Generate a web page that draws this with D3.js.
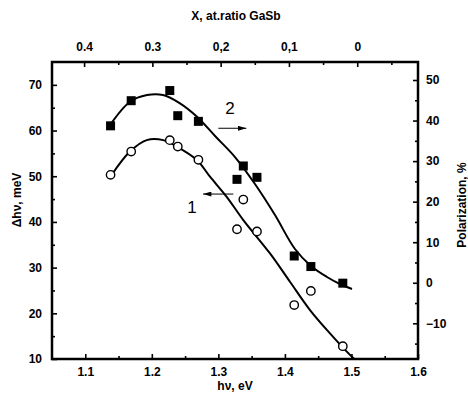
<!DOCTYPE html>
<html>
<head>
<meta charset="utf-8">
<script src="https://cdn.jsdelivr.net/npm/d3@7"></script>
<style>
  body { margin: 0; background: #fff; }
  svg { display: block; }
  text { font-family: "Liberation Sans", Arial, sans-serif; fill: #000; }
</style>
</head>
<body>
<svg id="chart" width="468" height="399"></svg>
<script>
// photon energy (eV) of each measured sample
const energy = [1.138, 1.169, 1.227, 1.239, 1.270, 1.3375, 1.328, 1.358, 1.414, 1.439, 1.487];
// curve 1: linewidth, meV (open circles, left axis)
const width1 = [50.3, 55.4, 57.9, 56.5, 53.6, 44.9, 38.4, 37.9, 21.8, 24.9, 12.8];
// curve 2: polarization, % (filled squares, right axis)
const polar2 = [38.7, 44.9, 47.4, 41.2, 39.8, 28.8, 25.5, 26.0, 6.6, 4.0, -0.1];

// fitted curves
const fit1X = [1.1397, 1.1672, 1.1923, 1.2172, 1.2374, 1.2674, 1.2874, 1.3125, 1.3375, 1.3776, 1.4076, 1.4377, 1.4677, 1.4978, 1.5053];
const fit1Y = [50.3, 55.4, 57.9, 57.9, 56.5, 53.6, 49.9, 45.5, 40.4, 33.1, 26.9, 20.7, 15.6, 10.9, 9.9];
const fit2X = [1.1372, 1.1672, 1.1928, 1.2168, 1.2423, 1.2679, 1.2950, 1.3250, 1.3550, 1.3851, 1.4151, 1.4392, 1.4632, 1.4827, 1.5008];
const fit2Y = [38.9, 44.65, 46.3, 46.3, 44.26, 40.95, 36.19, 31.0, 24.35, 16.7, 8.33, 4.13, 1.42, -0.31, -1.54];

// axes
const bottomTicks = [1.1, 1.2, 1.3, 1.4, 1.5, 1.6];
const bottomMinor = [1.15, 1.25, 1.35, 1.45, 1.55];
const topTicks = [0.4, 0.3, 0.2, 0.1, 0];
const topLabels = ["0.4", "0.3", "0,2", "0,1", "0"];
const topMinor = [0.35, 0.25, 0.15, 0.05, -0.05];
const leftTicks = [10, 20, 30, 40, 50, 60, 70];
const leftMinor = [15, 25, 35, 45, 55, 65];
const rightTicks = [-10, 0, 10, 20, 30, 40, 50];
const rightMinor = [-15, -5, 5, 15, 25, 35, 45];

const svg = d3.select("#chart");
const pL = 52, pR = 418, pT = 62, pB = 359;

const x = d3.scaleLinear().domain([1.05, 1.6]).range([pL, pR]);
const xTop = d3.scaleLinear().domain([0.447, -0.089]).range([pL, pR]);
const yL = d3.scaleLinear().domain([10, 75]).range([pB, pT]);
const yR = d3.scaleLinear().domain([-18.8, 54.44]).range([pB, pT]);

svg.append("clipPath").attr("id", "plot")
  .append("rect").attr("x", pL).attr("y", pT)
  .attr("width", pR - pL).attr("height", pB - pT);

// axes with inward ticks
function drawAxis(axis, tx, ty) {
  const g = svg.append("g").attr("transform", `translate(${tx},${ty})`).call(axis);
  g.select(".domain").remove();
  g.selectAll("line").attr("stroke", "#000").attr("stroke-width", 1.6);
  g.selectAll("text")
    .style("font-size", "12px")
    .style("font-weight", "bold")
    .attr("font-family", null);
  return g;
}

drawAxis(d3.axisBottom(x).tickValues(bottomTicks).tickFormat(d3.format(".1f")).tickSizeInner(-5).tickPadding(8), 0, pB);
drawAxis(d3.axisBottom(x).tickValues(bottomMinor).tickFormat("").tickSizeInner(-3), 0, pB);
drawAxis(d3.axisTop(xTop).tickValues(topTicks).tickFormat((d, i) => topLabels[i]).tickSizeInner(-5).tickPadding(11), 0, pT);
drawAxis(d3.axisTop(xTop).tickValues(topMinor).tickFormat("").tickSizeInner(-3), 0, pT);
drawAxis(d3.axisLeft(yL).tickValues(leftTicks).tickFormat(d3.format("d")).tickSizeInner(-5).tickPadding(10), pL, 0);
drawAxis(d3.axisLeft(yL).tickValues(leftMinor).tickFormat("").tickSizeInner(-3), pL, 0);
drawAxis(d3.axisRight(yR).tickValues(rightTicks).tickFormat(d3.format("d")).tickSizeInner(-5).tickPadding(8), pR, 0);
drawAxis(d3.axisRight(yR).tickValues(rightMinor).tickFormat("").tickSizeInner(-3), pR, 0);

// frame
svg.append("rect")
  .attr("x", pL).attr("y", pT)
  .attr("width", pR - pL).attr("height", pB - pT)
  .attr("fill", "none").attr("stroke", "#000").attr("stroke-width", 2.5);

// axis titles
function title(t) {
  return t.style("font-size", "12px").style("font-weight", "bold").attr("text-anchor", "middle");
}
title(svg.append("text").attr("x", 236).attr("y", 20)).text("X, at.ratio GaSb");
title(svg.append("text").attr("x", 235).attr("y", 390)).text("hν, eV");
title(svg.append("text").attr("transform", "translate(21,200) rotate(-90)")).text("Δhν, meV");
title(svg.append("text").attr("transform", "translate(466,205) rotate(-90)")).text("Polarization, %");

// fitted curves
const plot = svg.append("g").attr("clip-path", "url(#plot)");
const line = d3.line().curve(d3.curveCatmullRom.alpha(0.5));

plot.append("path")
  .attr("d", line(fit1X.map((v, i) => [x(v), yL(fit1Y[i])])))
  .attr("fill", "none").attr("stroke", "#000").attr("stroke-width", 2);
plot.append("path")
  .attr("d", line(fit2X.map((v, i) => [x(v), yR(fit2Y[i])])))
  .attr("fill", "none").attr("stroke", "#000").attr("stroke-width", 2);

// markers
svg.append("g").selectAll("circle")
  .data(energy)
  .join("circle")
  .attr("cx", d => x(d))
  .attr("cy", (d, i) => yL(width1[i]))
  .attr("r", 4.2)
  .attr("fill", "#fff").attr("stroke", "#000").attr("stroke-width", 1.4);

const sq = 9;
svg.append("g").selectAll("rect")
  .data(energy)
  .join("rect")
  .attr("x", d => x(d) - sq / 2)
  .attr("y", (d, i) => yR(polar2[i]) - sq / 2)
  .attr("width", sq).attr("height", sq)
  .attr("fill", "#000");

// arrows pointing to each curve's axis
svg.append("defs").append("marker")
  .attr("id", "head").attr("viewBox", "0 0 10 6")
  .attr("refX", 10).attr("refY", 3)
  .attr("markerWidth", 9).attr("markerHeight", 5)
  .attr("markerUnits", "userSpaceOnUse")
  .attr("orient", "auto")
  .append("path").attr("d", "M0,0 L10,3 L0,6 Z").attr("fill", "#000");

svg.append("line")
  .attr("x1", x(1.300)).attr("y1", yR(38.1))
  .attr("x2", x(1.342)).attr("y2", yR(38.1))
  .attr("stroke", "#000").attr("stroke-width", 1)
  .attr("marker-end", "url(#head)");
svg.append("line")
  .attr("x1", x(1.3225)).attr("y1", yL(46.1))
  .attr("x2", x(1.277)).attr("y2", yL(46.1))
  .attr("stroke", "#000").attr("stroke-width", 1)
  .attr("marker-end", "url(#head)");

svg.append("text").attr("x", x(1.3175)).attr("y", yR(43.1) + 6)
  .attr("text-anchor", "middle").style("font-size", "17px").text("2");
svg.append("text").attr("x", x(1.2604)).attr("y", yL(43.3) + 6)
  .attr("text-anchor", "middle").style("font-size", "17px").text("1");
</script>
</body>
</html>
